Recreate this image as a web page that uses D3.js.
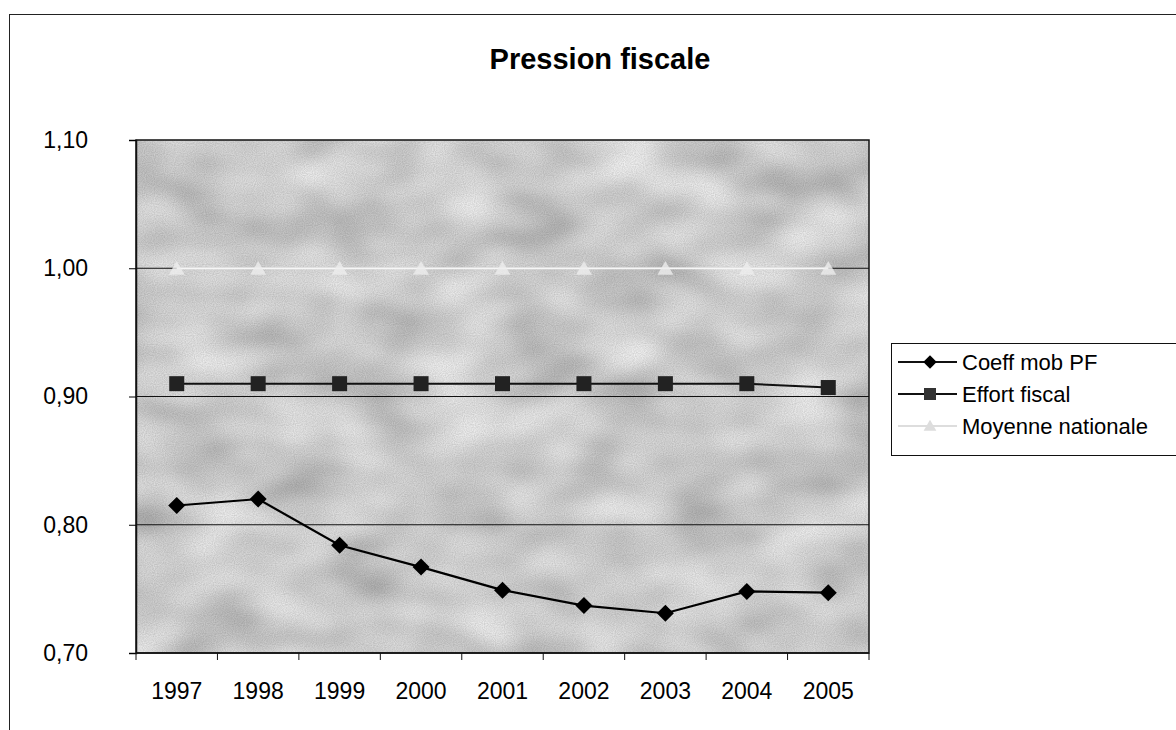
<!DOCTYPE html>
<html>
<head>
<meta charset="utf-8">
<title>Pression fiscale</title>
<script src="https://cdn.jsdelivr.net/npm/d3@7"></script>
<style>
    body{
        margin:0;
        background:#fff;
        font-family:"Liberation Sans", Arial, sans-serif;
    }
</style>
</head>
<body>
<div id="chart"></div>
<script>
    var years = ["1997","1998","1999","2000","2001","2002","2003","2004","2005"];
    var coeffMobPF = [0.815, 0.820, 0.784, 0.767, 0.749, 0.737, 0.731, 0.748, 0.747];
    var effortFiscal = [0.910, 0.910, 0.910, 0.910, 0.910, 0.910, 0.910, 0.910, 0.907];
    var moyenneNationale = [1.00, 1.00, 1.00, 1.00, 1.00, 1.00, 1.00, 1.00, 1.00];
    var yTicks = [0.70, 0.80, 0.90, 1.00, 1.10];
    var seriesNames = ["Coeff mob PF","Effort fiscal","Moyenne nationale"];

    var W = 1176, H = 730
    var plot = {left:136, top:140, right:869, bottom:653}

    var svg = d3.select("#chart").append("svg").attr("width",W).attr("height",H)
        .style("font-family","Liberation Sans, Arial, sans-serif")

    // scanned-paper texture for the plot background
    var defs = svg.append("defs")
    var f = defs.append("filter").attr("id","grain").attr("x",0).attr("y",0).attr("width","100%").attr("height","100%")
    f.append("feTurbulence").attr("type","fractalNoise").attr("baseFrequency","0.012 0.02").attr("numOctaves",2).attr("seed",7).attr("result","noise")
    f.append("feColorMatrix").attr("in","noise").attr("type","matrix")
        .attr("values","0.7 0 0 0 0.33  0.7 0 0 0 0.33  0.7 0 0 0 0.33  0 0 0 0 1").attr("result","mottle")
    f.append("feTurbulence").attr("type","fractalNoise").attr("baseFrequency","0.9").attr("numOctaves",1).attr("seed",2).attr("result","fine")
    f.append("feColorMatrix").attr("in","fine").attr("type","matrix")
        .attr("values","0 0 0 0 0  0 0 0 0 0  0 0 0 0 0  0.45 0 0 0 -0.08").attr("result","speck")
    f.append("feComposite").attr("in","speck").attr("in2","mottle").attr("operator","over")

    // outer chart frame
    svg.append("rect").attr("x",9.5).attr("y",14.5).attr("width",W).attr("height",H)
        .attr("fill","none").attr("stroke","#222").attr("stroke-width",1)

    svg.append("text").attr("x",600).attr("y",69).attr("text-anchor","middle")
        .attr("font-size",29).attr("font-weight","bold").text("Pression fiscale")

    var x = d3.scaleBand().domain(years).range([plot.left, plot.right])
    var y = d3.scaleLinear().domain([0.70, 1.10]).range([plot.bottom, plot.top])

    svg.append("rect").attr("x",plot.left).attr("y",plot.top)
        .attr("width",plot.right-plot.left).attr("height",plot.bottom-plot.top)
        .attr("fill","#aaa").attr("filter","url(#grain)")

    // gridlines
    svg.append("g").selectAll("line").data(yTicks.filter(function(d){ return d > 0.7 && d < 1.1 }))
        .enter().append("line")
        .attr("x1",plot.left).attr("x2",plot.right)
        .attr("y1",function(d){ return y(d) }).attr("y2",function(d){ return y(d) })
        .attr("stroke","#111").attr("stroke-width",1)

    svg.append("rect").attr("x",plot.left).attr("y",plot.top)
        .attr("width",plot.right-plot.left).attr("height",plot.bottom-plot.top)
        .attr("fill","none").attr("stroke","#111").attr("stroke-width",1.5)

    var fmt = function(d){ return d3.format(".2f")(d).replace(".",",") }

    var yAxis = d3.axisLeft(y).tickValues(yTicks).tickFormat(fmt).tickSize(7).tickPadding(41)
    var gy = svg.append("g").attr("transform","translate(" + plot.left + ",0)").call(yAxis)
    gy.attr("font-size",23).attr("font-family","Liberation Sans, Arial, sans-serif")
    gy.select(".domain").attr("stroke","#111").attr("stroke-width",1.5)

    // x axis: ticks between categories, labels centred
    var gx = svg.append("g").attr("transform","translate(0," + plot.bottom + ")")
    gx.append("line").attr("x1",plot.left).attr("x2",plot.right).attr("stroke","#111").attr("stroke-width",1.5)
    var bounds = years.map(function(d){ return x(d) }).concat([x.range()[1]])
    gx.selectAll(".tk").data(bounds).enter().append("line")
        .attr("x1",function(d){ return d }).attr("x2",function(d){ return d })
        .attr("y1",0).attr("y2",7).attr("stroke","#111")
    gx.selectAll(".lbl").data(years).enter().append("text")
        .attr("x",function(d){ return x(d) + x.bandwidth()/2 }).attr("y",46)
        .attr("text-anchor","middle").attr("font-size",23).text(function(d){ return d })

    var cx = function(i){ return x(years[i]) + x.bandwidth()/2 }
    var line = d3.line().x(function(d,i){ return cx(i) }).y(function(d){ return y(d) })

    // Moyenne nationale
    svg.append("path").datum(moyenneNationale).attr("d",line)
        .attr("fill","none").attr("stroke","#f6f6f6").attr("stroke-width",2)
    svg.selectAll(".mn").data(moyenneNationale).enter().append("path")
        .attr("d",d3.symbol().type(d3.symbolTriangle).size(110))
        .attr("transform",function(d,i){ return "translate(" + cx(i) + "," + (y(d)+2) + ")" })
        .attr("fill","#eeeeee").attr("opacity",0.8)

    // Effort fiscal
    svg.append("path").datum(effortFiscal).attr("d",line)
        .attr("fill","none").attr("stroke","#111").attr("stroke-width",2)
    svg.selectAll(".ef").data(effortFiscal).enter().append("rect")
        .attr("x",function(d,i){ return cx(i)-7.5 }).attr("y",function(d){ return y(d)-7.5 })
        .attr("width",15).attr("height",15).attr("fill","#222")

    // Coeff mob PF
    svg.append("path").datum(coeffMobPF).attr("d",line)
        .attr("fill","none").attr("stroke","#000").attr("stroke-width",2.2)
    svg.selectAll(".cm").data(coeffMobPF).enter().append("path")
        .attr("d",d3.symbol().type(d3.symbolSquare).size(145))
        .attr("transform",function(d,i){ return "translate(" + cx(i) + "," + y(d) + ") rotate(45)" })
        .attr("fill","#000")

    // legend
    var lg = svg.append("g").attr("transform","translate(891,343)")
    lg.append("rect").attr("x",0.5).attr("y",0.5).attr("width",300).attr("height",112)
        .attr("fill","#fff").attr("stroke","#111")
    var items = lg.selectAll(".it").data(seriesNames).enter().append("g")
        .attr("transform",function(d,i){ return "translate(0," + (19 + i*32) + ")" })
    items.append("line").attr("x1",7).attr("x2",66).attr("y1",0).attr("y2",0)
        .attr("stroke",function(d,i){ return i < 2 ? "#111" : "#ddd" }).attr("stroke-width",2)
    items.each(function(d,i){
        var g = d3.select(this)
        if(i == 0){
            g.append("path").attr("d",d3.symbol().type(d3.symbolSquare).size(90))
                .attr("transform","translate(39,0) rotate(45)").attr("fill","#000")
        } else if(i == 1){
            g.append("rect").attr("x",33).attr("y",-6).attr("width",12).attr("height",12).attr("fill","#333")
        } else {
            g.append("path").attr("d",d3.symbol().type(d3.symbolTriangle).size(70))
                .attr("transform","translate(39,1)").attr("fill","#ddd")
        }
    })
    items.append("text").attr("x",71).attr("y",8).attr("font-size",22).text(function(d){ return d })
</script>
</body>
</html>
